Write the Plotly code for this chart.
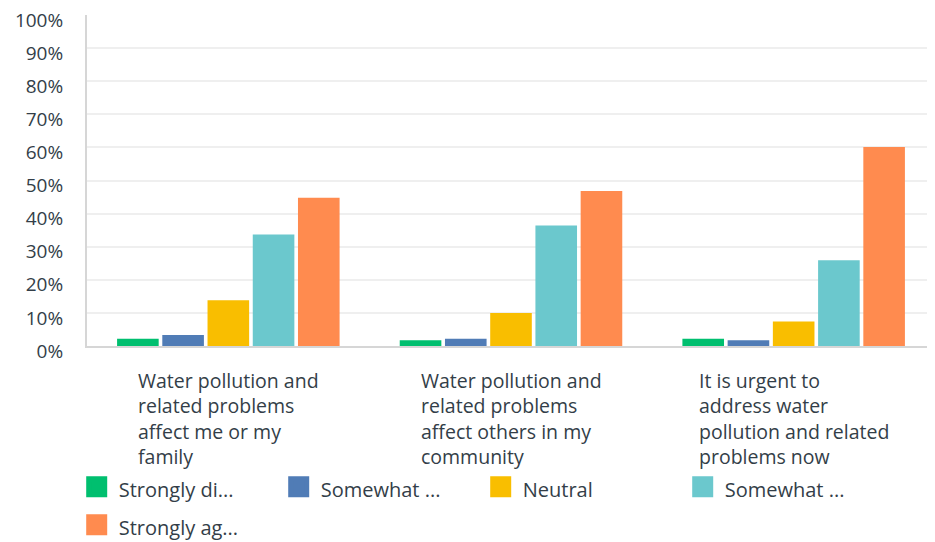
import plotly.graph_objects as go

categories = [
    "Water pollution and<br>related problems<br>affect me or my<br>family",
    "Water pollution and<br>related problems<br>affect others in my<br>community",
    "It is urgent to<br>address water<br>pollution and related<br>problems now",
]
series_names = ["Strongly di...", "Somewhat ...", "Neutral", "Somewhat ...", "Strongly ag..."]
strongly_disagree = [2.2, 1.7, 2.2]
somewhat_disagree = [3.3, 2.2, 1.7]
neutral = [13.8, 10.0, 7.4]
somewhat_agree = [33.7, 36.4, 25.9]
strongly_agree = [44.8, 46.8, 60.1]
series_values = [strongly_disagree, somewhat_disagree, neutral, somewhat_agree, strongly_agree]
colors = ["#00bf6f", "#507cb6", "#f9be00", "#6bc8cd", "#ff8b4f"]
y_ticks = [0, 10, 20, 30, 40, 50, 60, 70, 80, 90, 100]
y_tick_labels = [f"{v}%" for v in y_ticks]

FONT = "Open Sans"
TXT = "#333e48"

fig = go.Figure()
x_idx = list(range(len(categories)))
for name, vals, col in zip(series_names, series_values, colors):
    fig.add_trace(go.Bar(
        x=x_idx, y=vals, name=name, marker_color=col,
        marker_line_width=0, showlegend=False,
        hovertemplate="%{y:.1f}%<extra>" + name + "</extra>",
    ))
# legend entries with larger square swatches
for name, col in zip(series_names, colors):
    fig.add_trace(go.Scatter(
        x=[None], y=[None], mode="markers",
        name='<span style="font-size:20px">' + name + "</span>",
        marker=dict(symbol="square", size=16, color=col, line=dict(color=col, width=5)),
        showlegend=True, hoverinfo="skip",
    ))

for i, cat in enumerate(categories):
    fig.add_annotation(
        x=i, y=0, xref="x", yref="paper", yanchor="top", xanchor="center",
        text=cat, align="left", showarrow=False, yshift=-18.5,
        font=dict(family=FONT, size=19.5, color=TXT),
    )

fig.update_layout(
    width=935, height=542,
    margin=dict(l=79, r=8, t=7, b=203.5, autoexpand=False),
    paper_bgcolor="white", plot_bgcolor="white",
    barmode="group", bargap=0.2, bargroupgap=0.08,
    font=dict(family=FONT, size=20, color=TXT),
    showlegend=True,
    legend=dict(
        orientation="h", x=-0.0145, xanchor="left", y=-0.3523, yanchor="top",
        entrywidth=153, entrywidthmode="pixels", itemwidth=34,
        font=dict(family=FONT, size=27, color=TXT),
        bgcolor="rgba(0,0,0,0)",
    ),
)
fig.update_xaxes(
    range=[-0.5, 2.5], showticklabels=False, ticks="",
    showline=True, linecolor="#d6d6d6", linewidth=2,
    showgrid=False, zeroline=False, fixedrange=True, automargin=False,
)
fig.update_yaxes(
    range=[0, 100], tickvals=y_ticks, ticktext=y_tick_labels,
    ticks="", ticklabelstandoff=18, ticklabeloverflow="allow", ticklabelshift=5,
    showgrid=True, gridcolor="#efefef", gridwidth=2,
    showline=True, linecolor="#d6d6d6", linewidth=2,
    zeroline=False, fixedrange=True, automargin=False,
    tickfont=dict(family=FONT, size=19, color=TXT),
)

fig.write_html("out.html")
